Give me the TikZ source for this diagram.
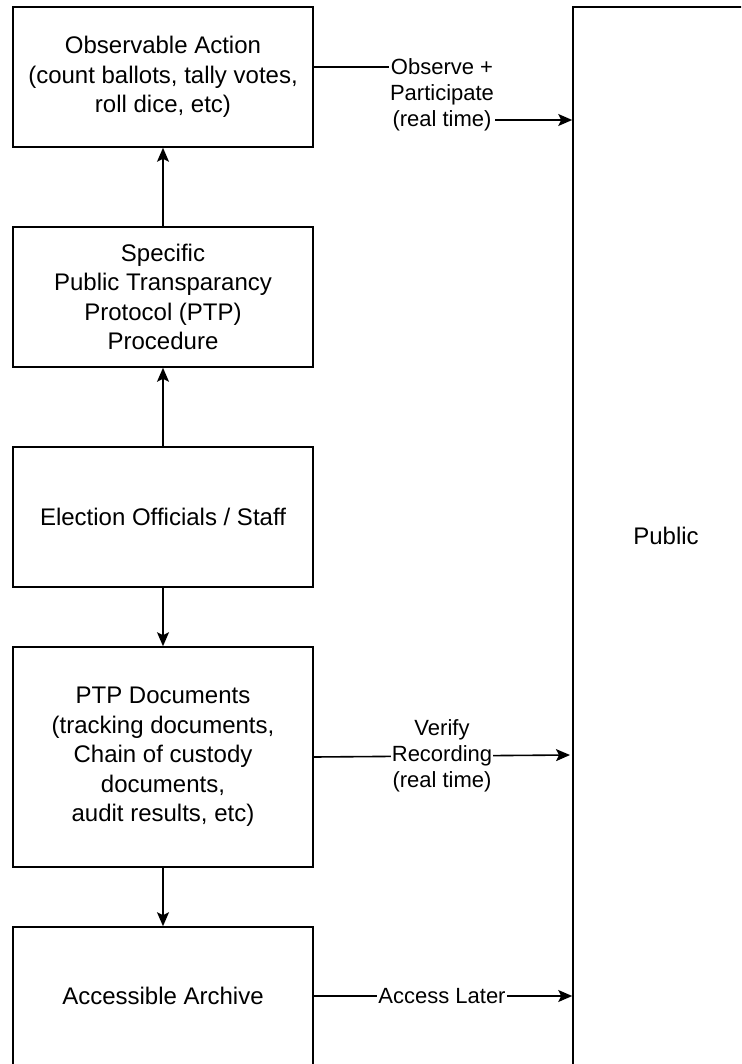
\documentclass[tikz,border=0pt]{standalone}
\usepackage{fontspec}
\setmainfont{Liberation Sans}
\usetikzlibrary{arrows.meta,calc}
\begin{document}
\begin{tikzpicture}[x=1pt,y=-1pt,
  box/.style={draw=black,line width=1.6pt,fill=white,minimum width=300pt,minimum height=140pt,
    align=center,font=\fontsize{24}{29.5}\selectfont,inner sep=0pt},
  pubbox/.style={draw=black,line width=1.6pt,fill=white,minimum width=186pt,minimum height=1058pt,
    align=center,font=\fontsize{24}{29.5}\selectfont,inner sep=0pt},
  lbl/.style={fill=white,align=center,font=\fontsize{22}{26}\selectfont,inner sep=1pt},
  arr/.style={line width=1.6pt,-{Stealth[length=14pt,width=12pt,inset=3pt]}},
  ln/.style={line width=1.6pt}]
\useasboundingbox (0,0) rectangle (741,1064);
\clip (0,0) rectangle (741,1064);
\node[box] (b1) at (163,77) {Observable Action\\(count ballots, tally votes,\\roll dice, etc)};
\node[box] (b2) at (163,297) {Specific\\Public Transparancy\\Protocol (PTP)\\Procedure};
\node[box] (b3) at (163,517) {Election Officials / Staff};
\node[box,minimum height=220pt] (b4) at (163,757) {PTP Documents\\(tracking documents,\\Chain of custody\\documents,\\audit results, etc)};
\node[box] (b5) at (163,997) {};
\node[font=\fontsize{24}{29.5}\selectfont] (t5) at (163,996) {Accessible Archive};
\node[pubbox] (pub) at (666,536) {Public};
% vertical arrows
\draw[arr] (b2.north) -- (b1.south);
\draw[arr] (b3.north) -- (b2.south);
\draw[arr] (b3.south) -- (b4.north);
\draw[arr] (b4.south) -- (b5.north);
% observe + participate
\coordinate (o1) at (b1.east |- 0,67);
\coordinate (o2) at (pub.west |- 0,120);
\draw[arr] (o1) -- (442,67) -- (442,120) -- (o2);
\node[lbl] (l1) at (442,94.5) {Observe +\\Participate\\(real time)};
% verify recording
\coordinate (v2) at (570,755);
\draw[arr] (b4.east) -- (v2);
\node[lbl] (l2) at (442,756) {Verify\\Recording\\(real time)};
% access later
\coordinate (a1) at (b5.east |- 0,996);
\coordinate (a2) at (pub.west |- 0,996);
\draw[arr] (a1) -- (a2);
\node[lbl] (l3) at (442,996) {Access Later};
\end{tikzpicture}
\end{document}
